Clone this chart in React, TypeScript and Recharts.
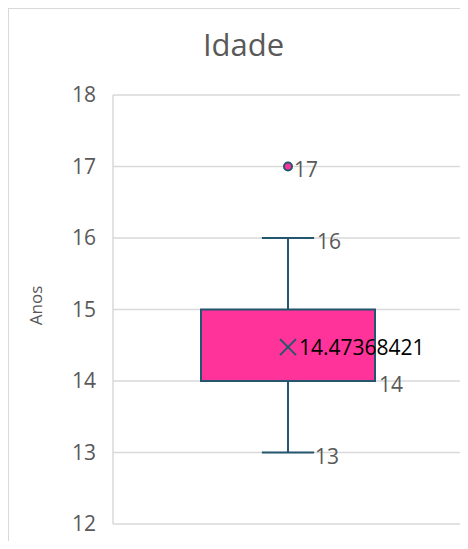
import { Bar, CartesianGrid, ComposedChart, Scatter, XAxis, YAxis } from "recharts";

// box-plot summary
const CATEGORIES = ["Idade"];
const MIN = [13];
const Q1 = [14];
const MEDIAN = [14];
const Q3 = [15];
const MAX = [16];
const MEAN = [14.47368421];
const OUTLIERS = [[17]];
const Y_TICKS = [12, 13, 14, 15, 16, 17, 18];

const PINK = "#ff3399";
const TEAL = "#24566f";
const GRID = "#d9d9d9";
const TXT = "#595959";
const FONT = "'Open Sans', sans-serif";

const data = CATEGORIES.map((name, i) => ({
  name,
  whisker: [MIN[i], MAX[i]],
  box: [Q1[i], Q3[i]],
  median: MEDIAN[i],
  mean: MEAN[i],
}));

const outlierData = CATEGORIES.flatMap((name, i) =>
  OUTLIERS[i].map((value) => ({ name, value }))
);

function WhiskerShape(props: any) {
  const { x, y, width, height, payload } = props;
  const cx = x + width / 2;
  const top = Math.min(y, y + height);
  const bot = Math.max(y, y + height);
  const cap = width * 0.15;
  const [lo, hi] = payload.whisker;
  return (
    <g>
      <line x1={cx} x2={cx} y1={top} y2={bot} stroke={TEAL} strokeWidth={2} />
      <line x1={cx - cap} x2={cx + cap} y1={top} y2={top} stroke={TEAL} strokeWidth={2} />
      <line x1={cx - cap} x2={cx + cap} y1={bot} y2={bot} stroke={TEAL} strokeWidth={2} />
      <text x={cx + cap + 3} y={top} dy={3} dominantBaseline="central" fill={TXT} fontSize={21} fontFamily={FONT}>
        {hi}
      </text>
      <text x={cx + cap + 1} y={bot} dy={3} dominantBaseline="central" fill={TXT} fontSize={21} fontFamily={FONT}>
        {lo}
      </text>
    </g>
  );
}

function BoxShape(props: any) {
  const { x, y, width, height, payload } = props;
  const top = Math.min(y, y + height);
  const bot = Math.max(y, y + height);
  const [q1, q3] = payload.box;
  const medY = bot - ((payload.median - q1) / (q3 - q1)) * (bot - top);
  return (
    <g>
      <rect x={x} y={top} width={width} height={bot - top} fill={PINK} stroke={TEAL} strokeWidth={2} />
      <line x1={x} x2={x + width} y1={medY} y2={medY} stroke={TEAL} strokeWidth={2} />
      <text x={x + width + 4} y={bot} dy={3} dominantBaseline="central" fill={TXT} fontSize={21} fontFamily={FONT}>
        {q1}
      </text>
    </g>
  );
}

function MeanShape(props: any) {
  const { cx, cy, payload } = props;
  const s = 8;
  return (
    <g>
      <line x1={cx - s} x2={cx + s} y1={cy - s} y2={cy + s} stroke={TEAL} strokeWidth={2} />
      <line x1={cx - s} x2={cx + s} y1={cy + s} y2={cy - s} stroke={TEAL} strokeWidth={2} />
      <text x={cx + 11} y={cy} dominantBaseline="central" fill="#000" fontSize={21} fontFamily={FONT}>
        {payload.mean}
      </text>
    </g>
  );
}

function OutlierShape(props: any) {
  const { cx, cy, payload } = props;
  return (
    <g>
      <circle cx={cx} cy={cy} r={4} fill={PINK} stroke={TEAL} strokeWidth={2} />
      <text x={cx + 6} y={cy} dy={2} dominantBaseline="central" fill={TXT} fontSize={21} fontFamily={FONT}>
        {payload.value}
      </text>
    </g>
  );
}

export default function App() {
  return (
    <div
      style={{
        position: "relative",
        width: 460,
        height: 533,
        boxSizing: "border-box",
        borderTop: `1px solid ${GRID}`,
        borderLeft: `1px solid ${GRID}`,
        overflow: "hidden",
        background: "#fff",
      }}
    >
      <div
        style={{
          position: "absolute",
          top: 20,
          left: 5,
          width: 459,
          textAlign: "center",
          fontFamily: FONT,
          fontSize: 31,
          lineHeight: "31px",
          color: TXT,
        }}
      >
        Idade
      </div>
      <ComposedChart
        width={459}
        height={532}
        data={data}
        margin={{ top: 86, right: 5, bottom: 17, left: 0 }}
        barGap={-174}
      >
        <CartesianGrid vertical={false} stroke={GRID} strokeWidth={1.5} />
        <XAxis dataKey="name" type="category" allowDuplicatedCategory={false} hide />
        <YAxis
          type="number"
          domain={[12, 18]}
          ticks={Y_TICKS}
          interval={0}
          width={104}
          axisLine={{ stroke: GRID, strokeWidth: 1.5 }}
          tickLine={false}
          tickSize={0}
          tickMargin={17}
          tick={{ fill: TXT, fontSize: 21, fontFamily: FONT }}
          label={{
            content: (p: any) => {
              const vb = p.viewBox;
              const lx = vb.x + 26;
              const ly = vb.y + vb.height / 2 - 4;
              return (
                <text
                  x={lx}
                  y={ly}
                  transform={`rotate(-90 ${lx} ${ly})`}
                  textAnchor="middle"
                  dominantBaseline="central"
                  fill={TXT}
                  fontSize={17}
                  fontFamily={FONT}
                >
                  Anos
                </text>
              );
            },
          }}
        />
        <Bar dataKey="whisker" barSize={174} shape={WhiskerShape} isAnimationActive={false} />
        <Bar dataKey="box" barSize={174} shape={BoxShape} isAnimationActive={false} />
        <Scatter dataKey="mean" shape={MeanShape} isAnimationActive={false} />
        <Scatter data={outlierData} dataKey="value" shape={OutlierShape} isAnimationActive={false} />
      </ComposedChart>
    </div>
  );
}
